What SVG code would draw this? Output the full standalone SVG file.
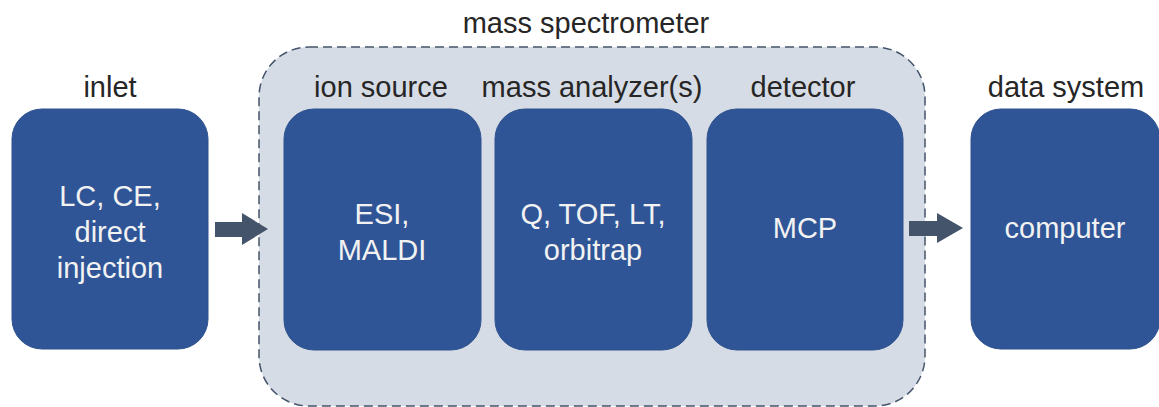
<svg xmlns="http://www.w3.org/2000/svg" width="1159" height="407" viewBox="0 0 1159 407">
<style>
.box{fill:#2F5597;stroke:#2F528F;stroke-width:1}
.lbl{font-family:"Liberation Sans",Arial,sans-serif;font-size:29px;fill:#262626;text-anchor:middle}
.in{font-family:"Liberation Sans",Arial,sans-serif;font-size:29px;fill:#F2F2F2;text-anchor:middle}
.arrow{fill:#44546A}
</style>
<rect width="1159" height="407" fill="#FFFFFF"/>
<g id="mass-spectrometer">
<rect x="259" y="47" width="666" height="359" rx="50" ry="50" fill="#D6DCE5" stroke="#44546A" stroke-width="1.5" stroke-dasharray="9,5"/>
<text class="lbl" x="586" y="33">mass spectrometer</text>
</g>
<g id="inlet">
<text class="lbl" x="110" y="97">inlet</text>
<rect class="box" x="12" y="109" width="196" height="240" rx="30" ry="30"/>
<text class="in" x="110" y="206">LC, CE,</text>
<text class="in" x="110" y="242">direct</text>
<text class="in" x="110" y="278">injection</text>
</g>
<g id="ion-source">
<text class="lbl" x="381" y="97">ion source</text>
<rect class="box" x="284" y="109" width="197" height="241" rx="30" ry="30"/>
<text class="in" x="382" y="224">ESI,</text>
<text class="in" x="382" y="260">MALDI</text>
</g>
<g id="mass-analyzer">
<text class="lbl" x="592" y="97">mass analyzer(s)</text>
<rect class="box" x="495" y="109" width="197" height="241" rx="30" ry="30"/>
<text class="in" x="593" y="224">Q, TOF, LT,</text>
<text class="in" x="593" y="260">orbitrap</text>
</g>
<g id="detector">
<text class="lbl" x="803" y="97">detector</text>
<rect class="box" x="707" y="109" width="196" height="241" rx="30" ry="30"/>
<text class="in" x="805" y="238">MCP</text>
</g>
<g id="data-system">
<text class="lbl" x="1066" y="97">data system</text>
<rect class="box" x="971" y="109" width="189" height="240" rx="30" ry="30"/>
<text class="in" x="1065" y="238">computer</text>
</g>
<g id="connectors">
<polygon class="arrow" points="215,222 242,222 242,213 268,229 242,245 242,237 215,237"/>
<polygon class="arrow" points="909,221 937,221 937,213 963,228 937,243 937,236 909,236"/>
</g>
</svg>
